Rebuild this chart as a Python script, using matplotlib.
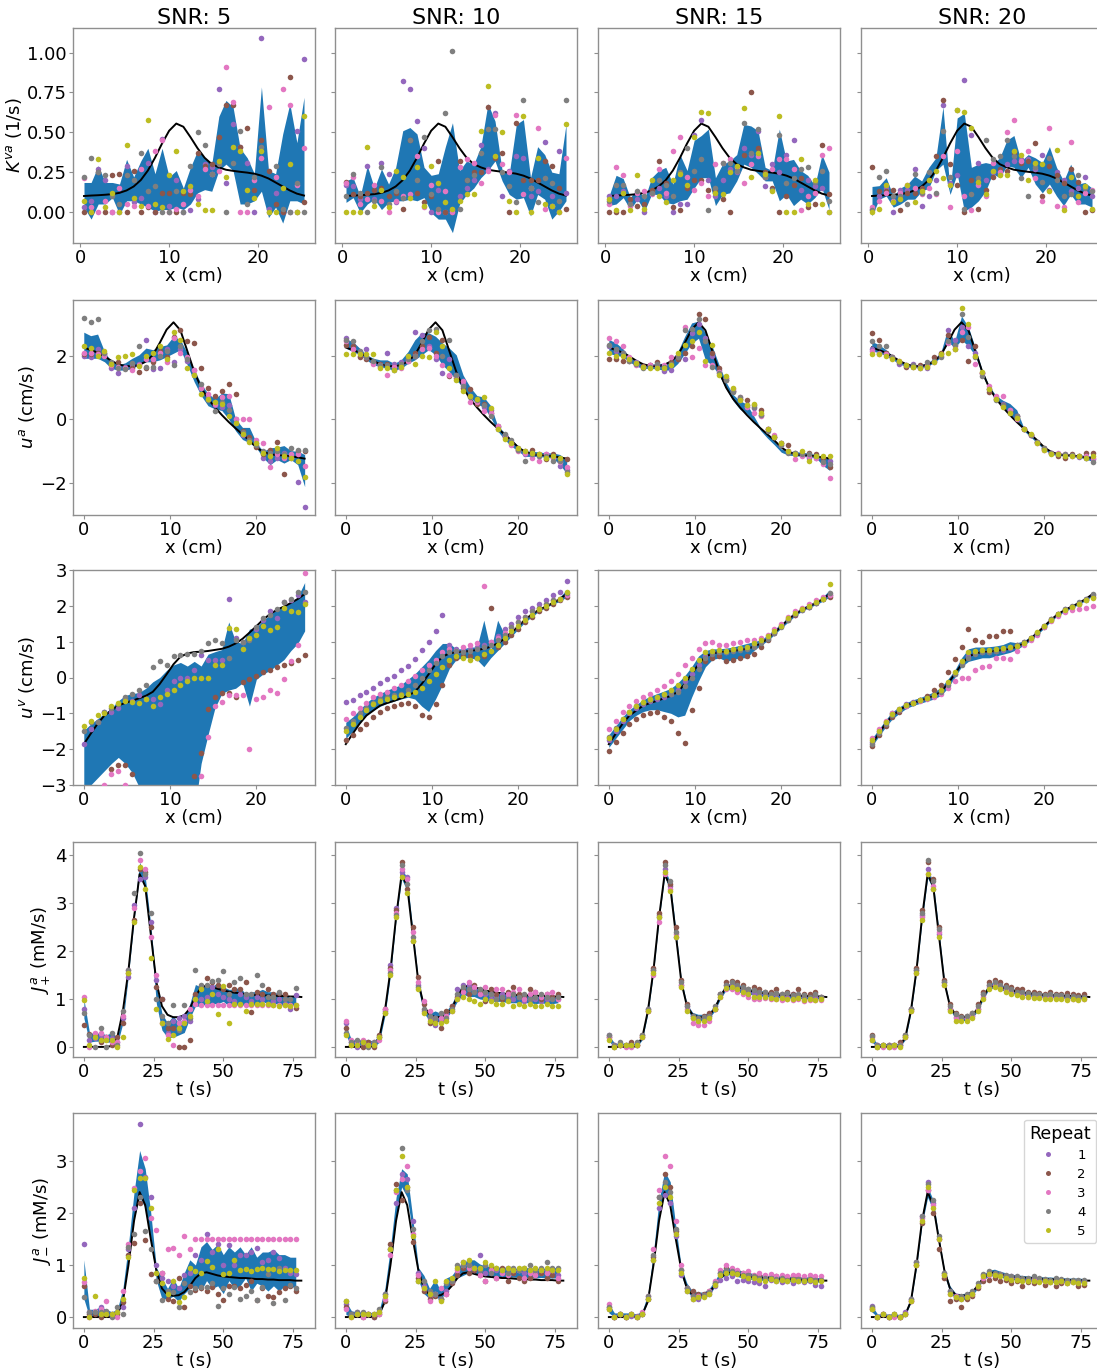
import numpy as np
import matplotlib
matplotlib.use("Agg")
import matplotlib.pyplot as plt

# ---------------- grids ----------------
x_k = np.round(np.arange(0.4, 25.3, 0.8), 2)   # K^va grid (32 points)
x_u = np.round(np.arange(0.0, 25.7, 0.8), 2)   # velocity grid (33 points)
t_est = np.arange(0, 77, 2)                    # flux estimates (39 points)
t_true = np.arange(0, 80, 2)                   # reference flux curve (40 points)

snrs = [5, 10, 15, 20]
repeat_labels = ["1", "2", "3", "4", "5"]
repeat_colors = ["tab:purple", "tab:brown", "tab:pink", "tab:gray", "tab:olive"]

# ---------------- K^va ----------------
kva_true = [0.100, 0.103, 0.105, 0.108, 0.112, 0.12, 0.135, 0.16, 0.20, 0.26, 0.34, 0.43, 0.51, 0.555, 0.535, 0.47,
            0.40, 0.34, 0.30, 0.28, 0.265, 0.258, 0.252, 0.247, 0.24, 0.228, 0.21, 0.185, 0.16, 0.135, 0.115, 0.103]

kva_hi_5 = [0.185, 0.185, 0.29, 0.185, 0.185, 0.175, 0.33, 0.22, 0.32, 0.40, 0.24, 0.40, 0.22, 0.26, 0.15, 0.28,
            0.385, 0.34, 0.30, 0.60, 0.70, 0.66, 0.40, 0.34, 0.24, 0.785, 0.26, 0.24, 0.49, 0.68, 0.435, 0.72]
kva_lo_5 = [0.03, -0.045, 0.05, 0.05, 0.09, -0.015, 0.07, 0.07, 0.05, 0.03, 0.005, 0.015, 0.015, 0.03, 0.015, 0.05,
            0.12, 0.14, 0.13, 0.26, 0.30, 0.26, 0.05, 0.05, 0.07, 0.13, -0.035, 0.03, -0.07, 0.07, 0.07, 0.05]
kva_reps_5 = [
    [0.03, 0.07, 0.27, 0.20, 0.00, 0.00, 0.29, 0.06, 0.09, 0.31, 0.00, 0.46, 0.04, 0.20, 0.00, 0.01,
     0.08, 0.30, 0.28, 0.77, 0.18, 0.55, 0.41, 0.31, 0.00, 1.09, 0.02, 0.12, 0.00, 0.00, 0.51, 0.96],
    [0.00, 0.00, 0.25, 0.00, 0.23, 0.24, 0.00, 0.26, 0.00, 0.03, 0.00, 0.12, 0.12, 0.00, 0.12, 0.11,
     0.37, 0.29, 0.30, 0.47, 0.67, 0.67, 0.41, 0.53, 0.14, 0.45, 0.26, 0.05, 0.00, 0.85, 0.00, 0.06],
    [0.21, 0.03, 0.00, 0.07, 0.00, 0.15, 0.05, 0.04, 0.27, 0.04, 0.38, 0.45, 0.00, 0.02, 0.05, 0.14,
     0.10, 0.27, 0.24, 0.26, 0.91, 0.69, 0.00, 0.00, 0.20, 0.34, 0.66, 0.22, 0.77, 0.67, 0.17, 0.40],
    [0.22, 0.34, 0.25, 0.23, 0.10, 0.05, 0.23, 0.20, 0.37, 0.13, 0.16, 0.00, 0.00, 0.13, 0.00, 0.29,
     0.50, 0.42, 0.24, 0.30, 0.00, 0.31, 0.51, 0.05, 0.22, 0.41, 0.00, 0.29, 0.02, 0.00, 0.18, 0.00],
    [0.07, 0.00, 0.33, 0.03, 0.12, 0.00, 0.42, 0.09, 0.04, 0.58, 0.05, 0.03, 0.23, 0.38, 0.13, 0.16,
     0.05, 0.01, 0.01, 0.32, 0.22, 0.41, 0.38, 0.14, 0.09, 0.38, 0.00, 0.00, 0.15, 0.30, 0.00, 0.60],
]

kva_hi_10 = [0.195, 0.215, 0.10, 0.29, 0.15, 0.27, 0.175, 0.28, 0.51, 0.53, 0.49, 0.28, 0.23, 0.24, 0.41, 0.56,
             0.26, 0.32, 0.30, 0.41, 0.68, 0.57, 0.26, 0.24, 0.55, 0.58, 0.215, 0.41, 0.36, 0.25, 0.24, 0.55]
kva_lo_10 = [0.06, 0.09, -0.005, 0.05, 0.08, 0.015, 0.06, 0.07, 0.07, 0.08, 0.07, 0.09, -0.005, -0.045, -0.045, -0.13,
             0.05, 0.11, 0.15, 0.215, 0.26, 0.32, 0.195, 0.11, 0.08, 0.09, -0.025, 0.11, 0.08, -0.045, 0.005, 0.07]
kva_reps_10 = [
    [0.17, 0.16, 0.08, 0.29, 0.08, 0.31, 0.24, 0.06, 0.82, 0.77, 0.57, 0.40, 0.00, 0.14, 0.00, 0.01,
     0.10, 0.15, 0.20, 0.42, 0.27, 0.62, 0.10, 0.26, 0.35, 0.34, 0.10, 0.13, 0.44, 0.10, 0.38, 0.12],
    [0.19, 0.11, 0.10, 0.12, 0.14, 0.15, 0.10, 0.12, 0.02, 0.45, 0.12, 0.06, 0.10, 0.32, 0.00, 0.00,
     0.32, 0.20, 0.25, 0.25, 0.66, 0.34, 0.37, 0.00, 0.56, 0.20, 0.20, 0.20, 0.32, 0.29, 0.15, 0.02],
    [0.18, 0.22, 0.05, 0.08, 0.17, 0.07, 0.00, 0.07, 0.10, 0.11, 0.35, 0.03, 0.17, 0.00, 0.13, 0.00,
     0.28, 0.33, 0.31, 0.18, 0.26, 0.61, 0.30, 0.25, 0.61, 0.11, 0.15, 0.53, 0.02, 0.04, 0.00, 0.34],
    [0.10, 0.24, 0.12, 0.00, 0.07, 0.28, 0.05, 0.13, 0.09, 0.45, 0.20, 0.47, 0.11, 0.02, 0.62, 1.01,
     0.02, 0.20, 0.23, 0.37, 0.52, 0.52, 0.25, 0.16, 0.06, 0.70, 0.15, 0.06, 0.21, 0.18, 0.07, 0.70],
    [0.00, 0.00, 0.00, 0.41, 0.04, 0.14, 0.03, 0.26, 0.22, 0.09, 0.28, 0.04, 0.29, 0.18, 0.06, 0.02,
     0.07, 0.11, 0.11, 0.51, 0.79, 0.35, 0.50, 0.07, 0.00, 0.60, 0.00, 0.34, 0.05, 0.04, 0.00, 0.55],
]

kva_hi_15 = [0.10, 0.23, 0.21, 0.09, 0.15, 0.08, 0.215, 0.26, 0.28, 0.175, 0.36, 0.26, 0.45, 0.48, 0.52, 0.215,
             0.30, 0.32, 0.36, 0.55, 0.54, 0.51, 0.28, 0.26, 0.52, 0.32, 0.33, 0.26, 0.23, 0.165, 0.36, 0.25]
kva_lo_15 = [0.04, 0.05, 0.09, 0.015, 0.08, 0.006, 0.11, 0.11, 0.06, 0.05, 0.07, 0.08, 0.15, 0.215, 0.215, 0.04,
             0.11, 0.12, 0.195, 0.30, 0.28, 0.24, 0.195, 0.195, 0.07, 0.11, 0.04, 0.08, 0.05, 0.09, 0.15, 0.015]
kva_reps_15 = [
    [0.10, 0.10, 0.13, 0.05, 0.08, 0.00, 0.13, 0.15, 0.10, 0.00, 0.05, 0.05, 0.48, 0.58, 0.20, 0.10,
     0.20, 0.27, 0.25, 0.40, 0.36, 0.51, 0.16, 0.30, 0.25, 0.36, 0.45, 0.14, 0.20, 0.16, 0.15, 0.00],
    [0.00, 0.00, 0.00, 0.08, 0.04, 0.05, 0.14, 0.32, 0.18, 0.03, 0.01, 0.15, 0.20, 0.20, 0.14, 0.14,
     0.08, 0.00, 0.28, 0.36, 0.75, 0.40, 0.25, 0.15, 0.00, 0.10, 0.17, 0.21, 0.03, 0.05, 0.42, 0.11],
    [0.05, 0.28, 0.23, 0.04, 0.12, 0.13, 0.11, 0.27, 0.12, 0.38, 0.47, 0.22, 0.14, 0.18, 0.10, 0.30,
     0.31, 0.33, 0.28, 0.18, 0.30, 0.35, 0.22, 0.27, 0.33, 0.33, 0.27, 0.01, 0.10, 0.12, 0.36, 0.40],
    [0.07, 0.17, 0.17, 0.05, 0.13, 0.10, 0.12, 0.20, 0.17, 0.10, 0.25, 0.40, 0.26, 0.33, 0.01, 0.15,
     0.31, 0.31, 0.26, 0.56, 0.37, 0.52, 0.22, 0.14, 0.48, 0.18, 0.21, 0.27, 0.28, 0.19, 0.26, 0.07],
    [0.08, 0.01, 0.12, 0.01, 0.23, 0.02, 0.20, 0.10, 0.06, 0.20, 0.24, 0.17, 0.47, 0.63, 0.62, 0.12,
     0.11, 0.25, 0.29, 0.65, 0.22, 0.37, 0.24, 0.13, 0.60, 0.00, 0.00, 0.33, 0.05, 0.20, 0.05, 0.00],
]

kva_hi_20 = [0.16, 0.165, 0.215, 0.10, 0.15, 0.175, 0.225, 0.195, 0.28, 0.34, 0.66, 0.13, 0.59, 0.62, 0.28, 0.30,
             0.31, 0.30, 0.34, 0.45, 0.48, 0.32, 0.36, 0.34, 0.31, 0.41, 0.28, 0.195, 0.30, 0.175, 0.185, 0.15]
kva_lo_20 = [-0.025, 0.08, 0.10, 0.03, 0.05, 0.08, 0.08, 0.13, 0.15, 0.26, 0.30, 0.11, 0.24, 0.006, 0.03, 0.07,
             0.13, 0.24, 0.215, 0.29, 0.28, 0.215, 0.28, 0.175, 0.12, 0.175, 0.10, 0.04, 0.11, 0.05, 0.05, 0.03]
kva_reps_20 = [
    [0.02, 0.10, 0.15, 0.00, 0.14, 0.14, 0.27, 0.04, 0.10, 0.20, 0.67, 0.18, 0.23, 0.83, 0.48, 0.31,
     0.20, 0.25, 0.24, 0.30, 0.32, 0.33, 0.33, 0.27, 0.36, 0.14, 0.25, 0.20, 0.13, 0.15, 0.22, 0.10],
    [0.28, 0.13, 0.13, 0.14, 0.01, 0.12, 0.12, 0.15, 0.20, 0.35, 0.70, 0.30, 0.17, 0.00, 0.20, 0.02,
     0.14, 0.22, 0.27, 0.26, 0.37, 0.31, 0.32, 0.43, 0.10, 0.29, 0.23, 0.18, 0.27, 0.19, 0.00, 0.01],
    [0.03, 0.07, 0.12, 0.07, 0.12, 0.17, 0.15, 0.11, 0.15, 0.11, 0.35, 0.03, 0.38, 0.10, 0.01, 0.17,
     0.10, 0.31, 0.25, 0.50, 0.58, 0.32, 0.38, 0.21, 0.07, 0.53, 0.04, 0.03, 0.44, 0.06, 0.12, 0.14],
    [0.01, 0.22, 0.26, 0.10, 0.10, 0.05, 0.24, 0.12, 0.25, 0.12, 0.51, 0.22, 0.64, 0.02, 0.11, 0.21,
     0.45, 0.33, 0.35, 0.45, 0.35, 0.21, 0.10, 0.28, 0.19, 0.34, 0.20, 0.10, 0.11, 0.23, 0.15, 0.13],
    [0.00, 0.02, 0.17, 0.06, 0.08, 0.17, 0.06, 0.13, 0.20, 0.26, 0.21, 0.17, 0.64, 0.63, 0.53, 0.19,
     0.11, 0.26, 0.23, 0.23, 0.38, 0.36, 0.20, 0.31, 0.30, 0.13, 0.39, 0.01, 0.22, 0.10, 0.16, 0.02],
]

# ---------------- u^a ----------------
ua_true = [2.26, 2.18, 2.10, 1.98, 1.84, 1.73, 1.68, 1.67, 1.71, 1.82, 2.02, 2.40, 2.82, 3.05, 2.80, 2.15,
           1.50, 1.00, 0.65, 0.38, 0.14, -0.08, -0.28, -0.47, -0.66, -0.88, -1.02, -1.09, -1.12, -1.13, -1.16, -1.19, -1.23]

ua_hi_5 = [2.74, 2.63, 2.68, 2.13, 1.81, 1.71, 1.78, 1.92, 2.03, 2.24, 2.19, 2.29, 2.34, 2.61, 2.50, 2.08,
           1.55, 1.12, 0.81, 0.65, 0.83, 0.81, 0.01, -0.25, -0.25, -0.73, -1.00, -0.89, -0.87, -0.82, -0.98, -1.00, -1.10]
ua_lo_5 = [1.92, 1.92, 1.92, 1.81, 1.60, 1.55, 1.55, 1.60, 1.71, 1.81, 1.81, 1.87, 1.97, 2.08, 2.19, 1.71,
           1.18, 0.75, 0.43, 0.33, 0.28, 0.01, -0.36, -0.63, -0.73, -0.89, -1.21, -1.42, -1.26, -1.37, -1.26, -1.42, -2.11]
ua_reps_5 = [
    [2.0, 1.95, 2.2, 2.1, 1.62, 1.45, 1.65, 1.7, 1.75, 2.5, 1.58, 1.6, 2.2, 1.8, 2.2, 1.85,
     1.55, 1.0, 0.75, 0.45, 0.4, 0.45, 0.0, -0.5, -0.6, -0.75, -1.2, -1.3, -1.2, -1.05, -1.2, -1.95, -2.75],
    [2.05, 2.05, 2.1, 2.05, 1.7, 1.8, 1.62, 1.6, 1.5, 1.6, 1.8, 2.15, 1.95, 2.6, 2.8, 2.45,
     2.4, 1.6, 1.0, 0.75, 0.9, 1.1, 0.8, -0.35, -0.55, -0.85, -1.1, -0.95, -0.7, -1.7, -1.15, -1.0, -1.0],
    [2.1, 2.1, 2.05, 2.0, 1.7, 1.65, 1.6, 1.55, 1.72, 1.9, 1.9, 2.1, 1.8, 2.55, 2.1, 1.95,
     1.55, 1.0, 0.8, 0.5, 0.7, 0.75, 0.0, 0.0, 0.0, -0.65, -0.75, -1.5, -1.1, -1.2, -1.1, -1.1, -1.45],
    [3.17, 3.05, 3.16, 2.1, 1.8, 1.6, 1.58, 1.78, 2.3, 1.65, 1.65, 2.0, 2.15, 1.7, 2.3, 1.9,
     1.4, 1.1, 0.6, 0.25, 0.55, 0.3, -0.1, -0.4, -0.65, -0.8, -1.0, -1.05, -1.0, -1.1, -0.9, -0.95, -0.95],
    [2.3, 2.25, 2.0, 2.15, 1.75, 1.97, 2.0, 2.05, 1.68, 2.0, 2.1, 2.3, 1.9, 2.75, 2.5, 1.6,
     1.4, 0.8, 0.65, 0.55, 0.5, 0.1, -0.1, -0.45, -0.7, -0.75, -1.05, -1.15, -0.9, -1.15, -1.2, -1.3, -1.8],
]

ua_hi_10 = [2.52, 2.45, 2.24, 2.03, 1.92, 1.87, 1.87, 1.76, 1.87, 2.13, 2.50, 2.72, 2.72, 2.61, 2.40, 2.24,
            2.03, 1.39, 1.02, 0.75, 0.70, 0.43, -0.20, -0.41, -0.63, -0.84, -0.98, -1.00, -1.02, -1.05, -1.05, -1.10, -1.26]
ua_lo_10 = [2.24, 2.13, 2.03, 1.87, 1.71, 1.66, 1.60, 1.55, 1.60, 1.76, 1.87, 2.03, 2.19, 2.03, 1.71, 1.50,
            1.23, 1.02, 0.70, 0.49, 0.38, 0.06, -0.36, -0.63, -0.84, -1.00, -1.16, -1.16, -1.16, -1.19, -1.21, -1.42, -1.69]
ua_reps_10 = [
    [2.55, 2.3, 2.0, 2.2, 1.8, 1.65, 2.1, 1.75, 1.8, 1.9, 2.75, 2.65, 2.3, 1.9, 1.45, 1.9,
     1.4, 1.1, 0.75, 0.6, 0.4, 0.3, -0.25, -0.5, -0.7, -0.9, -1.1, -1.1, -1.15, -1.1, -1.2, -1.45, -1.6],
    [2.35, 2.3, 1.95, 1.9, 1.8, 1.75, 1.75, 1.65, 1.7, 1.85, 2.1, 2.3, 2.6, 2.1, 2.5, 1.35,
     1.3, 1.0, 0.95, 0.5, 0.5, 0.2, -0.2, -0.55, -0.75, -0.95, -1.0, -0.95, -1.1, -1.25, -1.1, -1.25, -1.25],
    [2.45, 2.2, 2.1, 1.95, 1.75, 1.7, 1.4, 1.65, 1.6, 1.85, 2.0, 2.2, 2.25, 2.0, 1.7, 1.4,
     1.35, 1.2, 0.55, 0.55, 0.25, 0.2, -0.2, -0.5, -0.8, -1.0, -1.05, -1.2, -1.3, -1.1, -1.2, -1.35, -1.5],
    [2.5, 2.45, 2.15, 1.95, 1.85, 1.7, 1.7, 1.55, 1.75, 1.9, 2.0, 2.45, 2.8, 2.85, 2.0, 2.5,
     1.4, 1.05, 0.7, 0.6, 0.45, 0.1, -0.3, -0.45, -0.65, -0.95, -1.3, -1.1, -1.15, -1.15, -1.3, -1.3, -1.65],
    [2.05, 2.05, 2.05, 2.05, 2.05, 1.6, 1.6, 1.55, 1.65, 2.0, 1.75, 2.0, 1.95, 2.75, 2.3, 1.6,
     1.25, 0.9, 0.75, 0.65, 0.7, 0.35, -0.3, -0.6, -0.75, -0.9, -1.0, -1.05, -1.1, -1.2, -1.15, -1.2, -1.7],
]

ua_hi_15 = [2.51, 2.41, 2.23, 1.97, 1.81, 1.73, 1.73, 1.76, 1.76, 1.86, 2.13, 2.61, 3.03, 3.09, 2.71, 2.29,
            1.70, 1.17, 0.78, 0.59, 0.48, 0.11, -0.27, -0.48, -0.69, -0.93, -0.99, -1.01, -1.03, -1.06, -1.10, -1.17, -1.17]
ua_lo_15 = [2.07, 2.02, 1.97, 1.81, 1.67, 1.60, 1.60, 1.59, 1.54, 1.56, 1.76, 2.07, 2.39, 2.55, 1.86, 1.70,
            1.38, 0.96, 0.59, 0.32, 0.18, -0.05, -0.35, -0.59, -0.80, -1.03, -1.12, -1.14, -1.16, -1.18, -1.20, -1.44, -1.60]
ua_reps_15 = [
    [2.3, 2.15, 2.1, 1.9, 1.8, 1.65, 1.7, 1.65, 1.52, 1.55, 1.9, 1.9, 2.7, 3.0, 2.55, 2.0,
     1.55, 1.3, 0.9, 0.65, 0.4, 0.35, 0.15, -0.3, -0.55, -0.75, -1.0, -1.1, -1.1, -1.2, -1.2, -1.2, -1.3],
    [1.9, 1.9, 1.85, 1.85, 1.75, 1.68, 1.7, 1.8, 1.65, 1.8, 1.9, 2.1, 2.3, 3.3, 3.15, 2.1,
     1.6, 1.25, 0.9, 0.65, 0.6, 0.45, 0.3, -0.3, -0.55, -0.75, -0.8, -1.05, -1.1, -1.05, -1.1, -1.2, -1.5],
    [2.55, 2.45, 2.3, 1.95, 1.7, 1.65, 1.7, 1.7, 1.7, 1.95, 2.0, 2.9, 1.95, 2.25, 1.7, 1.7,
     1.5, 1.3, 0.95, 0.7, 0.4, 0.2, 0.1, -0.3, -0.5, -0.8, -1.0, -1.25, -1.15, -1.15, -1.2, -1.4, -1.85],
    [2.35, 2.2, 2.1, 1.85, 1.75, 1.6, 1.65, 1.75, 1.65, 1.75, 1.95, 2.8, 2.85, 3.15, 2.45, 1.65,
     1.45, 1.25, 0.85, 0.7, 0.45, 0.4, 0.15, -0.35, -0.55, -0.8, -1.05, -1.05, -1.1, -1.1, -1.15, -1.35, -1.4],
    [2.1, 2.0, 2.0, 1.9, 1.78, 1.65, 1.6, 1.6, 1.6, 1.7, 2.1, 2.35, 2.45, 2.75, 1.85, 2.35,
     1.4, 1.35, 1.0, 0.6, 0.45, 0.5, 0.2, -0.3, -0.55, -0.75, -1.0, -1.1, -1.0, -1.3, -1.15, -1.15, -1.15],
]

ua_hi_20 = [2.45, 2.35, 2.20, 2.00, 1.85, 1.76, 1.72, 1.72, 1.78, 1.90, 2.10, 2.85, 2.45, 3.25, 2.90, 2.25,
            1.55, 1.05, 0.75, 0.60, 0.50, 0.30, -0.25, -0.45, -0.65, -0.88, -1.02, -1.06, -1.08, -1.10, -1.12, -1.12, -1.15]
ua_lo_20 = [2.15, 2.10, 2.00, 1.88, 1.74, 1.66, 1.63, 1.62, 1.66, 1.78, 1.95, 2.45, 2.25, 2.50, 2.30, 2.00,
            1.40, 0.95, 0.60, 0.40, 0.15, 0.00, -0.35, -0.55, -0.75, -0.95, -1.10, -1.13, -1.15, -1.17, -1.19, -1.24, -1.32]
ua_reps_20 = [
    [2.2, 2.1, 2.1, 1.95, 1.75, 1.68, 1.75, 1.62, 1.6, 1.85, 2.05, 2.8, 2.5, 2.9, 2.3, 2.1,
     1.45, 0.95, 0.7, 0.5, 0.3, 0.1, -0.3, -0.5, -0.72, -0.92, -1.05, -1.1, -1.15, -1.13, -1.17, -1.2, -1.25],
    [2.7, 2.5, 2.1, 1.95, 1.8, 1.65, 1.65, 1.7, 1.7, 1.95, 2.1, 2.65, 2.2, 2.5, 1.85, 2.3,
     1.45, 0.85, 0.65, 0.45, 0.25, 0.1, -0.3, -0.5, -0.7, -0.9, -1.05, -1.15, -1.2, -1.1, -1.15, -1.05, -1.05],
    [2.15, 2.05, 2.05, 1.95, 1.85, 1.7, 1.68, 1.65, 1.68, 1.8, 2.0, 2.4, 2.3, 2.75, 2.9, 1.75,
     1.45, 1.05, 0.75, 0.75, 0.3, 0.0, -0.3, -0.5, -0.75, -0.95, -1.05, -1.05, -1.1, -1.15, -1.15, -1.15, -1.2],
    [2.45, 2.3, 2.3, 1.95, 1.8, 1.7, 1.7, 1.65, 1.8, 1.85, 1.95, 2.45, 2.35, 3.3, 2.6, 1.95,
     1.35, 0.95, 0.6, 0.45, 0.2, 0.1, -0.3, -0.5, -0.7, -0.9, -1.05, -1.1, -1.1, -1.12, -1.15, -1.2, -1.35],
    [2.05, 2.05, 2.0, 1.9, 1.85, 1.72, 1.65, 1.6, 1.65, 1.8, 2.05, 2.1, 2.2, 3.5, 3.0, 2.0,
     1.5, 0.95, 0.65, 0.4, 0.2, 0.05, -0.3, -0.45, -0.75, -0.95, -1.1, -1.1, -1.15, -1.15, -1.15, -1.2, -1.15],
]

# ---------------- u^v ----------------
uv_true = [-1.86, -1.57, -1.29, -1.06, -0.92, -0.78, -0.71, -0.65, -0.58, -0.51, -0.40, -0.18, 0.09, 0.37, 0.58, 0.67,
           0.71, 0.72, 0.74, 0.77, 0.80, 0.86, 0.95, 1.08, 1.25, 1.43, 1.62, 1.77, 1.89, 1.98, 2.08, 2.19, 2.33]

uv_hi_5 = [-1.48, -1.30, -1.15, -1.00, -0.85, -0.65, -0.50, -0.45, -0.42, -0.30, -0.12, 0.00, 0.20, 0.35, 0.42, 0.32,
           0.45, 0.32, 0.65, 0.72, 0.78, 1.55, 1.00, 0.95, 1.35, 1.40, 1.60, 1.75, 1.90, 2.00, 2.10, 2.25, 2.65]
uv_lo_5 = [-4.5, -3.0, -2.8, -2.6, -2.4, -2.23, -2.4, -2.65, -3.05, -3.8, -4.0, -4.0, -4.0, -4.0, -4.0, -4.0,
           -3.8, -2.4, -1.6, -0.85, -0.45, -0.35, -0.30, -0.15, -0.80, -0.05, 0.10, 0.20, 0.35, 0.50, 0.75, 0.95, 1.30]
uv_reps_5 = [
    [-1.85, -1.45, -1.25, -0.95, -0.95, -0.85, -0.6, -0.65, -0.5, -0.6, -0.6, -0.75, -0.35, -0.1, 0.0, 0.0,
     0.2, 0.62, 0.5, 0.5, 0.5, 2.18, 1.1, 1.0, 1.1, 1.35, 1.6, 1.85, 1.65, 2.1, 2.15, 2.3, 2.1],
    [-5.0, -3.8, -3.5, -3.2, -2.55, -2.45, -2.45, -2.7, -3.3, -3.8, -4.0, -4.2, -4.5, -4.2, -3.9, -3.3,
     -2.75, -2.1, -0.88, -0.55, -0.43, -0.43, -0.55, -0.12, -0.05, 0.05, 0.15, 0.2, 0.3, 0.35, 0.4, 0.5, 0.62],
    [-4.5, -4.0, -3.3, -3.0, -2.7, -2.62, -3.0, -3.2, -3.5, -4.0, -4.2, -4.3, -4.3, -4.0, -3.8, -3.5,
     -3.2, -2.75, -1.65, -0.8, -0.68, -0.48, -0.5, -0.5, -2.0, -0.6, -0.55, -0.35, -0.42, -0.05, 0.45, 0.9, 2.93],
    [-1.48, -1.25, -1.25, -0.95, -0.85, -0.75, -0.55, -0.45, -0.35, -0.2, 0.28, 0.45, 0.35, 0.6, 0.62, 0.65,
     0.65, 0.75, 0.95, 1.05, 0.95, 0.55, 1.05, 1.0, 1.05, 1.4, 1.65, 1.75, 1.9, 2.1, 2.2, 2.4, 2.38],
    [-1.36, -1.2, -1.05, -1.0, -0.8, -0.7, -0.65, -0.68, -0.72, -0.6, -0.8, -0.55, -0.45, -0.36, -0.2, -0.1,
     0.0, 0.0, 0.0, 0.35, 0.35, 1.38, 1.36, 0.8, 1.1, 1.2, 1.45, 1.32, 1.42, 1.95, 1.85, 1.82, 2.05],
]

uv_hi_10 = [-1.25, -1.10, -0.90, -0.70, -0.55, -0.45, -0.35, -0.28, -0.20, -0.05, 0.10, 0.30, 0.50, 0.75, 0.95, 0.95,
            0.80, 0.80, 0.85, 0.85, 1.60, 0.75, 1.60, 1.20, 1.30, 1.45, 1.65, 1.80, 1.92, 2.02, 2.12, 2.25, 2.45]
uv_lo_10 = [-1.70, -1.50, -1.25, -1.05, -0.90, -0.80, -0.72, -0.66, -0.60, -0.55, -0.60, -0.80, -0.95, -0.60, -0.20, 0.25,
            0.50, 0.55, 0.55, 0.50, 0.30, 0.55, 0.75, 0.95, 1.15, 1.35, 1.55, 1.70, 1.85, 1.95, 2.05, 2.12, 2.25]
uv_reps_10 = [
    [-0.69, -0.62, -0.5, -0.4, -0.28, -0.15, -0.05, 0.05, 0.2, 0.31, 0.53, 0.78, 0.99, 1.31, 1.75, 0.9,
     0.8, 0.75, 0.8, 0.85, 0.9, 1.0, 1.15, 1.35, 1.5, 1.7, 1.85, 1.95, 2.05, 2.15, 2.3, 2.4, 2.7],
    [-1.75, -1.6, -1.45, -1.3, -1.1, -0.95, -0.85, -0.8, -0.75, -0.7, -0.8, -1.05, -1.1, -0.75, -0.2, 0.35,
     0.55, 0.6, 0.6, 0.55, 0.6, 1.95, 0.85, 1.0, 1.2, 1.35, 1.55, 1.7, 1.85, 1.95, 2.05, 2.15, 2.25],
    [-1.15, -1.0, -0.85, -0.7, -0.55, -0.45, -0.4, -0.3, -0.2, -0.1, 0.05, 0.2, 0.35, 0.5, 0.7, 0.8,
     0.75, 0.85, 0.9, 0.95, 2.56, 1.0, 1.1, 1.25, 1.4, 1.55, 1.7, 1.85, 1.95, 2.05, 2.15, 2.2, 2.3],
    [-1.4, -1.2, -1.0, -0.85, -0.7, -0.6, -0.55, -0.5, -0.45, -0.35, -0.2, 0.0, 0.2, 0.4, 0.6, 0.7,
     0.75, 0.7, 0.75, 0.8, 0.85, 0.9, 1.05, 1.2, 1.4, 1.55, 1.7, 1.85, 1.95, 2.05, 2.15, 2.2, 2.35],
    [-1.5, -1.3, -1.1, -0.9, -0.75, -0.65, -0.6, -0.55, -0.5, -0.45, -0.4, -0.3, -0.1, 0.1, 0.3, 0.5,
     0.6, 0.55, 0.5, 0.55, 0.65, 0.75, 0.9, 1.1, 1.3, 1.45, 1.6, 1.75, 1.9, 2.0, 2.1, 2.2, 2.4],
]

uv_hi_15 = [-1.60, -1.35, -1.10, -0.90, -0.75, -0.62, -0.52, -0.45, -0.38, -0.30, -0.15, 0.05, 0.30, 0.60, 0.75, 0.80,
            0.80, 0.82, 0.85, 0.90, 0.95, 1.00, 1.05, 1.18, 1.35, 1.50, 1.68, 1.82, 1.95, 2.05, 2.12, 2.25, 2.45]
uv_lo_15 = [-1.95, -1.70, -1.45, -1.20, -1.05, -0.95, -0.90, -0.90, -0.95, -1.00, -1.10, -1.05, -0.55, -0.10, 0.30, 0.50,
            0.55, 0.45, 0.50, 0.55, 0.55, 0.75, 0.90, 1.02, 1.20, 1.38, 1.55, 1.72, 1.85, 1.95, 2.03, 2.13, 2.25]
uv_reps_15 = [
    [-1.75, -1.5, -1.2, -1.0, -0.85, -0.75, -0.65, -0.6, -0.55, -0.45, -0.35, -0.1, 0.1, 0.35, 0.6, 0.7,
     0.72, 0.7, 0.78, 0.8, 0.82, 0.9, 1.0, 1.1, 1.25, 1.45, 1.62, 1.75, 1.88, 1.98, 2.07, 2.18, 2.3],
    [-2.05, -1.8, -1.55, -1.3, -1.15, -1.05, -1.0, -0.95, -1.1, -1.2, -1.54, -1.84, -0.9, -0.3, 0.45, 0.55,
     0.6, 0.45, 0.5, 0.55, 0.6, 0.65, 0.85, 1.05, 1.25, 1.45, 1.6, 1.75, 1.9, 1.98, 2.08, 2.2, 2.25],
    [-1.45, -1.2, -0.95, -0.8, -0.65, -0.55, -0.45, -0.35, -0.25, -0.1, 0.1, 0.35, 0.55, 0.8, 0.95, 1.0,
     0.9, 0.9, 0.95, 1.0, 1.05, 1.05, 1.1, 1.2, 1.35, 1.5, 1.7, 1.85, 1.95, 2.05, 2.15, 2.25, 2.3],
    [-1.65, -1.4, -1.15, -0.95, -0.8, -0.7, -0.62, -0.55, -0.5, -0.45, -0.4, -0.25, 0.0, 0.25, 0.55, 0.65,
     0.7, 0.72, 0.75, 0.78, 0.8, 0.85, 0.95, 1.08, 1.25, 1.42, 1.6, 1.76, 1.88, 1.97, 2.08, 2.2, 2.35],
    [-1.7, -1.45, -1.15, -0.95, -0.8, -0.68, -0.6, -0.55, -0.45, -0.35, -0.2, 0.0, 0.25, 0.5, 0.7, 0.75,
     0.78, 0.75, 0.8, 0.82, 0.85, 0.95, 1.05, 1.15, 1.3, 1.45, 1.65, 1.8, 1.92, 2.0, 2.1, 2.2, 2.6],
]

uv_hi_20 = [-1.70, -1.45, -1.18, -0.95, -0.82, -0.70, -0.62, -0.56, -0.48, -0.40, -0.28, -0.05, 0.20, 0.55, 0.80, 0.85,
            0.85, 0.86, 0.88, 0.92, 1.00, 0.97, 1.02, 1.15, 1.30, 1.48, 1.66, 1.80, 1.92, 2.02, 2.12, 2.23, 2.37]
uv_lo_20 = [-1.92, -1.65, -1.38, -1.15, -1.00, -0.86, -0.78, -0.72, -0.66, -0.60, -0.50, -0.30, 0.00, 0.30, 0.45, 0.50,
            0.55, 0.55, 0.60, 0.65, 0.70, 0.78, 0.90, 1.03, 1.20, 1.38, 1.58, 1.73, 1.85, 1.94, 2.04, 2.15, 2.28]
uv_reps_20 = [
    [-1.8, -1.5, -1.25, -1.0, -0.88, -0.75, -0.68, -0.62, -0.55, -0.5, -0.38, -0.15, 0.1, 0.4, 0.6, 0.68,
     0.72, 0.72, 0.75, 0.78, 0.82, 0.88, 0.95, 1.1, 1.25, 1.45, 1.6, 1.78, 1.9, 1.98, 2.08, 2.2, 2.3],
    [-1.9, -1.6, -1.35, -1.1, -0.95, -0.8, -0.72, -0.62, -0.52, -0.35, -0.2, 0.15, 0.53, 0.84, 1.35, 1.06,
     1.0, 1.15, 1.17, 1.31, 1.29, 0.9, 0.98, 1.1, 1.25, 1.42, 1.62, 1.76, 1.88, 1.98, 2.05, 2.15, 2.25],
    [-1.7, -1.45, -1.2, -1.0, -0.9, -0.8, -0.72, -0.66, -0.6, -0.55, -0.45, -0.3, -0.1, 0.0, 0.0, 0.22,
     0.3, 0.31, 0.55, 0.55, 0.53, 0.75, 0.92, 1.05, 1.2, 1.4, 1.58, 1.72, 1.82, 1.88, 1.92, 1.95, 2.0],
    [-1.85, -1.55, -1.3, -1.05, -0.92, -0.78, -0.7, -0.64, -0.58, -0.5, -0.4, -0.2, 0.1, 0.35, 0.55, 0.65,
     0.7, 0.72, 0.75, 0.8, 0.85, 0.9, 0.98, 1.1, 1.25, 1.45, 1.62, 1.78, 1.9, 2.0, 2.1, 2.2, 2.32],
    [-1.75, -1.5, -1.25, -1.02, -0.88, -0.76, -0.7, -0.63, -0.56, -0.48, -0.36, -0.12, 0.15, 0.45, 0.7, 0.75,
     0.78, 0.78, 0.8, 0.82, 0.85, 0.88, 0.97, 1.1, 1.26, 1.44, 1.6, 1.76, 1.88, 1.96, 2.06, 2.16, 2.22],
]

# ---------------- J^a_+ ----------------
jp_true = [0.0, 0.0, 0.0, 0.0, 0.0, 0.02, 0.2, 0.75, 1.6, 2.7, 3.6, 3.35, 2.35, 1.35, 0.85, 0.67, 0.62, 0.62, 0.66, 0.8,
           1.05, 1.24, 1.28, 1.25, 1.21, 1.18, 1.15, 1.13, 1.12, 1.1, 1.09, 1.08, 1.08, 1.07, 1.07, 1.06, 1.06, 1.05, 1.05, 1.04]

jp_hi_5 = [1.0, 0.3, 0.28, 0.3, 0.25, 0.3, 0.2, 0.7, 1.6, 2.85, 3.85, 3.55, 2.55, 1.3, 0.7, 0.5, 0.65, 0.5, 0.6, 0.9,
           1.3, 1.25, 1.3, 1.25, 1.35, 1.25, 1.2, 1.2, 1.25, 1.1, 1.15, 1.15, 1.2, 1.15, 1.15, 1.1, 1.1, 1.05, 1.05]
jp_lo_5 = [0.6, 0.1, 0.12, 0.12, 0.1, 0.1, 0.05, 0.5, 1.5, 2.65, 3.6, 3.3, 2.3, 0.9, 0.35, 0.2, 0.2, 0.25, 0.3, 0.6,
           0.85, 0.85, 0.9, 0.9, 0.9, 0.95, 0.85, 0.85, 0.9, 0.85, 0.85, 0.9, 0.95, 0.9, 0.9, 0.9, 0.85, 0.85, 0.9]
jp_reps_5 = [
    [0.8, 0.15, 0.18, 0.25, 0.2, 0.18, 0.1, 0.6, 1.45, 2.95, 3.5, 3.55, 2.6, 1.4, 1.0, 0.3, 0.55, 0.6, 0.65, 0.55,
     1.0, 1.0, 1.05, 1.25, 1.1, 1.05, 1.0, 0.95, 1.1, 1.05, 0.95, 1.05, 1.0, 0.9, 0.95, 1.0, 0.9, 0.78, 1.08],
    [0.45, 0.27, 0.25, 0.1, 0.2, 0.05, 0.2, 0.5, 1.55, 2.65, 3.7, 3.65, 2.5, 1.25, 1.0, 0.4, 0.4, 0.0, 0.0, 0.15,
     1.1, 1.25, 1.43, 1.35, 1.3, 1.2, 1.3, 1.2, 1.2, 1.35, 0.72, 1.15, 1.1, 1.2, 1.1, 1.12, 1.1, 0.88, 0.82],
    [1.05, 0.0, 0.28, 0.28, 0.2, 0.1, 0.1, 0.65, 1.6, 2.9, 3.9, 3.7, 2.3, 1.5, 0.5, 0.25, 0.03, 0.5, 0.55, 0.8,
     0.9, 0.88, 0.88, 0.88, 0.88, 0.88, 0.88, 0.88, 0.88, 0.88, 0.88, 0.88, 0.88, 0.88, 0.88, 0.88, 0.88, 0.88, 0.88],
    [0.7, 0.25, 0.0, 0.4, 0.0, 0.3, 0.05, 0.75, 1.6, 3.2, 4.05, 3.6, 2.8, 1.0, 0.65, 0.5, 0.88, 0.35, 0.88, 0.6,
     1.6, 1.3, 1.3, 1.38, 1.4, 1.58, 1.1, 1.35, 1.43, 1.1, 1.1, 1.5, 1.3, 1.05, 1.05, 1.15, 1.0, 1.0, 1.23],
    [0.97, 0.05, 0.2, 0.15, 0.15, 0.15, 0.0, 0.2, 1.55, 2.6, 3.75, 3.3, 1.85, 0.8, 0.5, 0.17, 0.25, 0.4, 0.5, 0.65,
     1.0, 1.2, 0.95, 1.1, 0.68, 1.27, 0.5, 0.9, 0.9, 0.75, 0.9, 0.9, 0.9, 0.9, 0.88, 0.85, 0.88, 0.85, 0.88],
]

jp_hi_10 = [0.45, 0.15, 0.15, 0.15, 0.15, 0.12, 0.25, 0.8, 1.7, 2.85, 3.75, 3.5, 2.45, 1.4, 0.85, 0.7, 0.75, 0.7, 0.75, 0.9,
            1.15, 1.3, 1.3, 1.25, 1.2, 1.2, 1.15, 1.15, 1.12, 1.12, 1.1, 1.1, 1.12, 1.08, 1.08, 1.1, 1.05, 1.05, 1.05]
jp_lo_10 = [0.25, 0.0, 0.0, 0.0, 0.0, 0.0, 0.1, 0.65, 1.5, 2.65, 3.5, 3.25, 2.25, 1.2, 0.7, 0.55, 0.55, 0.5, 0.6, 0.75,
            0.95, 1.1, 1.05, 1.05, 1.0, 0.98, 0.95, 0.95, 0.95, 0.92, 0.92, 0.92, 0.92, 0.92, 0.9, 0.92, 0.9, 0.9, 0.92]
jp_reps_10 = [
    [0.5, 0.1, 0.0, 0.05, 0.1, 0.05, 0.2, 0.75, 1.7, 2.9, 3.65, 3.55, 2.2, 1.3, 0.75, 0.6, 0.45, 0.55, 0.7, 0.85,
     1.2, 1.3, 1.3, 1.2, 1.15, 1.1, 1.0, 1.05, 1.1, 1.05, 1.0, 1.05, 0.95, 1.0, 1.0, 0.95, 1.0, 1.05, 1.0],
    [0.4, 0.05, 0.1, 0.0, 0.1, 0.0, 0.25, 0.8, 1.65, 2.85, 3.85, 3.3, 2.5, 1.45, 0.9, 0.5, 0.55, 0.4, 0.75, 0.85,
     1.05, 1.2, 1.1, 1.3, 1.15, 0.95, 1.2, 1.1, 1.0, 1.15, 1.25, 1.1, 1.05, 1.2, 1.15, 1.0, 1.1, 1.05, 1.1],
    [0.55, 0.15, 0.1, 0.15, 0.05, 0.1, 0.15, 0.8, 1.6, 2.8, 3.7, 3.5, 2.4, 1.35, 0.95, 0.75, 0.6, 0.6, 0.65, 0.75,
     1.0, 1.15, 1.35, 1.25, 1.1, 1.25, 1.1, 1.2, 1.2, 1.1, 1.15, 1.2, 1.0, 1.1, 1.15, 1.05, 1.1, 1.15, 1.0],
    [0.3, 0.1, 0.15, 0.1, 0.0, 0.1, 0.2, 0.7, 1.55, 2.75, 3.8, 3.4, 2.3, 1.25, 0.8, 0.65, 0.6, 0.7, 0.6, 0.8,
     1.1, 1.25, 1.2, 1.15, 1.2, 1.15, 1.1, 1.0, 1.05, 1.0, 1.1, 1.05, 1.1, 1.0, 1.05, 1.1, 1.05, 1.0, 1.05],
    [0.25, 0.05, 0.05, 0.1, 0.05, 0.05, 0.2, 0.7, 1.5, 2.7, 3.55, 3.2, 2.2, 1.2, 0.7, 0.55, 0.5, 0.5, 0.55, 0.75,
     1.0, 1.05, 1.0, 0.95, 0.9, 1.0, 0.95, 0.9, 0.9, 0.95, 0.85, 0.9, 0.85, 0.9, 0.85, 0.85, 0.9, 0.85, 0.85],
]

jp_hi_15 = [0.25, 0.08, 0.08, 0.08, 0.08, 0.08, 0.25, 0.8, 1.65, 2.8, 3.7, 3.45, 2.45, 1.4, 0.9, 0.72, 0.68, 0.68, 0.72, 0.88,
            1.12, 1.3, 1.33, 1.3, 1.27, 1.22, 1.2, 1.18, 1.16, 1.14, 1.13, 1.12, 1.11, 1.1, 1.1, 1.09, 1.09, 1.08, 1.08]
jp_lo_15 = [0.12, 0.0, 0.0, 0.0, 0.0, 0.0, 0.15, 0.7, 1.55, 2.65, 3.55, 3.25, 2.25, 1.28, 0.8, 0.58, 0.55, 0.55, 0.6, 0.75,
            1.0, 1.18, 1.2, 1.15, 1.12, 1.1, 1.08, 1.06, 1.05, 1.04, 1.03, 1.02, 1.02, 1.01, 1.01, 1.0, 1.0, 1.0, 1.0]
jp_reps_15 = [
    [0.25, 0.05, 0.05, 0.02, 0.05, 0.05, 0.2, 0.8, 1.6, 2.75, 3.7, 3.35, 2.3, 1.3, 0.85, 0.6, 0.55, 0.6, 0.65, 0.8,
     1.1, 1.3, 1.3, 1.25, 1.2, 1.15, 1.12, 1.1, 1.1, 1.08, 1.1, 1.05, 1.05, 1.1, 1.05, 1.05, 1.0, 1.05, 1.05],
    [0.2, 0.0, 0.05, 0.05, 0.1, 0.05, 0.25, 0.75, 1.65, 2.8, 3.85, 3.4, 2.5, 1.4, 0.9, 0.65, 0.6, 0.65, 0.7, 0.8,
     1.1, 1.35, 1.38, 1.35, 1.3, 1.2, 1.25, 1.2, 1.15, 1.15, 1.2, 1.1, 1.15, 1.1, 1.2, 1.1, 1.1, 1.15, 1.05],
    [0.2, 0.05, 0.05, 0.0, 0.0, 0.05, 0.2, 0.75, 1.5, 2.6, 3.6, 3.3, 2.35, 1.3, 0.8, 0.5, 0.45, 0.45, 0.55, 0.8,
     1.05, 1.2, 1.2, 1.15, 1.1, 1.05, 1.0, 1.0, 1.02, 1.0, 1.0, 0.98, 1.0, 0.98, 1.0, 0.95, 0.98, 0.97, 0.98],
    [0.25, 0.05, 0.1, 0.05, 0.05, 0.1, 0.25, 0.8, 1.6, 2.7, 3.8, 3.45, 2.4, 1.35, 0.85, 0.65, 0.6, 0.62, 0.65, 0.85,
     1.1, 1.3, 1.35, 1.3, 1.25, 1.2, 1.18, 1.15, 1.15, 1.1, 1.12, 1.1, 1.12, 1.08, 1.1, 1.08, 1.05, 1.1, 1.05],
    [0.15, 0.0, 0.05, 0.05, 0.05, 0.05, 0.2, 0.75, 1.55, 2.7, 3.65, 3.25, 2.3, 1.25, 0.75, 0.6, 0.55, 0.55, 0.6, 0.8,
     1.05, 1.22, 1.25, 1.2, 1.15, 1.1, 1.05, 1.05, 1.05, 1.02, 1.0, 1.02, 1.0, 1.0, 1.02, 0.98, 1.0, 0.98, 1.0],
]

jp_hi_20 = [0.2, 0.07, 0.07, 0.07, 0.07, 0.07, 0.25, 0.8, 1.65, 2.8, 3.7, 3.45, 2.45, 1.4, 0.88, 0.7, 0.66, 0.66, 0.7, 0.86,
            1.12, 1.32, 1.35, 1.3, 1.26, 1.22, 1.2, 1.17, 1.15, 1.14, 1.13, 1.12, 1.12, 1.11, 1.1, 1.1, 1.09, 1.09, 1.08]
jp_lo_20 = [0.1, 0.0, 0.0, 0.0, 0.0, 0.0, 0.15, 0.7, 1.55, 2.62, 3.52, 3.28, 2.28, 1.28, 0.78, 0.58, 0.55, 0.55, 0.6, 0.75,
            1.0, 1.2, 1.24, 1.2, 1.15, 1.12, 1.1, 1.08, 1.06, 1.05, 1.04, 1.03, 1.03, 1.02, 1.02, 1.01, 1.01, 1.0, 1.0]
jp_reps_20 = [
    [0.15, 0.05, 0.05, 0.0, 0.05, 0.05, 0.2, 0.8, 1.6, 2.75, 3.7, 3.3, 2.35, 1.35, 0.8, 0.62, 0.6, 0.6, 0.65, 0.8,
     1.1, 1.28, 1.3, 1.25, 1.2, 1.15, 1.1, 1.12, 1.1, 1.08, 1.05, 1.05, 1.05, 1.08, 1.05, 1.05, 1.05, 1.02, 1.05],
    [0.25, 0.0, 0.05, 0.05, 0.05, 0.1, 0.25, 0.8, 1.65, 2.85, 3.85, 3.5, 2.5, 1.4, 0.9, 0.7, 0.65, 0.65, 0.7, 0.9,
     1.15, 1.35, 1.4, 1.35, 1.3, 1.25, 1.2, 1.2, 1.15, 1.15, 1.12, 1.1, 1.15, 1.1, 1.1, 1.12, 1.1, 1.08, 1.1],
    [0.2, 0.05, 0.0, 0.05, 0.0, 0.05, 0.2, 0.75, 1.55, 2.7, 3.6, 3.35, 2.4, 1.3, 0.8, 0.6, 0.6, 0.6, 0.65, 0.8,
     1.05, 1.25, 1.28, 1.22, 1.18, 1.12, 1.1, 1.08, 1.05, 1.05, 1.05, 1.03, 1.02, 1.03, 1.02, 1.0, 1.0, 1.02, 1.0],
    [0.22, 0.05, 0.05, 0.05, 0.05, 0.05, 0.25, 0.8, 1.6, 2.8, 3.9, 3.45, 2.45, 1.35, 0.85, 0.68, 0.62, 0.65, 0.7, 0.85,
     1.1, 1.3, 1.35, 1.3, 1.25, 1.2, 1.15, 1.15, 1.12, 1.1, 1.1, 1.08, 1.1, 1.08, 1.08, 1.07, 1.06, 1.05, 1.05],
    [0.15, 0.0, 0.05, 0.0, 0.05, 0.0, 0.2, 0.75, 1.55, 2.65, 3.6, 3.3, 2.3, 1.3, 0.75, 0.55, 0.55, 0.55, 0.6, 0.75,
     1.0, 1.2, 1.25, 1.2, 1.15, 1.1, 1.08, 1.05, 1.03, 1.02, 1.02, 1.0, 1.0, 1.0, 1.0, 0.98, 1.0, 0.98, 1.0],
]

# ---------------- J^a_- ----------------
jm_true = [0.0, 0.0, 0.0, 0.0, 0.0, 0.0, 0.05, 0.3, 1.0, 1.85, 2.4, 2.15, 1.5, 0.9, 0.55, 0.43, 0.41, 0.42, 0.48, 0.6,
           0.75, 0.84, 0.86, 0.83, 0.8, 0.78, 0.77, 0.76, 0.75, 0.75, 0.74, 0.73, 0.73, 0.72, 0.72, 0.71, 0.71, 0.71, 0.7, 0.7]

jm_hi_5 = [1.1, 0.15, 0.15, 0.2, 0.15, 0.1, 0.15, 0.55, 1.4, 2.4, 3.2, 2.85, 2.0, 0.95, 0.75, 0.55, 0.75, 0.55, 0.85, 1.1,
           1.0, 1.35, 1.45, 1.3, 1.4, 1.2, 1.35, 1.25, 1.35, 1.2, 1.35, 1.15, 1.25, 1.25, 1.3, 1.2, 1.2, 1.15, 1.15]
jm_lo_5 = [0.35, 0.0, 0.0, 0.05, 0.0, 0.0, 0.05, 0.3, 1.1, 1.9, 2.3, 2.1, 1.5, 0.7, 0.35, 0.35, 0.4, 0.3, 0.45, 0.55,
           0.6, 0.5, 0.7, 0.55, 0.6, 0.45, 0.7, 0.55, 0.6, 0.75, 0.5, 0.65, 0.6, 0.5, 0.6, 0.5, 0.6, 0.55, 0.6]
jm_reps_5 = [
    [1.4, 0.1, 0.1, 0.2, 0.1, 0.05, 0.1, 0.2, 1.3, 2.1, 3.7, 2.7, 2.3, 1.0, 0.75, 0.7, 0.6, 0.55, 0.8, 0.85,
     1.2, 1.1, 1.6, 1.25, 1.4, 1.0, 1.38, 1.0, 1.2, 1.2, 1.25, 1.32, 1.05, 1.1, 1.25, 1.13, 0.95, 0.85, 0.82],
    [0.6, 0.05, 0.05, 0.0, 0.05, 0.05, 0.05, 0.28, 1.2, 1.43, 2.2, 1.48, 0.82, 0.7, 0.85, 0.35, 0.3, 0.75, 0.2, 0.6,
     0.52, 0.55, 0.5, 0.57, 0.45, 0.32, 0.6, 0.6, 0.55, 0.62, 0.7, 0.32, 0.55, 0.4, 0.38, 0.48, 0.55, 0.6, 0.5],
    [0.68, 0.0, 0.12, 0.15, 0.3, 0.02, 0.0, 0.5, 1.4, 2.48, 2.8, 3.05, 1.9, 1.67, 0.85, 1.3, 1.33, 1.2, 1.55, 1.3,
     1.5, 1.5, 1.5, 1.5, 1.5, 1.5, 1.5, 1.5, 1.5, 1.5, 1.5, 1.5, 1.5, 1.5, 1.5, 1.5, 1.5, 1.5, 1.5],
    [0.38, 0.1, 0.1, 0.1, 0.12, 0.0, 0.2, 0.05, 1.35, 1.6, 2.3, 1.65, 1.3, 0.7, 0.32, 0.5, 0.48, 0.2, 0.65, 0.48,
     0.55, 0.58, 0.58, 0.65, 0.22, 0.55, 0.45, 0.58, 0.35, 0.4, 0.5, 0.33, 0.57, 0.83, 0.27, 0.95, 0.32, 0.62, 0.55],
    [0.75, 0.0, 0.4, 0.05, 0.05, 0.05, 0.1, 0.35, 1.15, 2.45, 2.67, 2.68, 2.1, 0.85, 0.65, 0.45, 0.7, 0.28, 0.38, 0.95,
     0.88, 0.85, 1.08, 0.97, 1.3, 0.82, 0.85, 1.1, 0.9, 0.92, 0.88, 0.92, 0.95, 0.92, 0.92, 0.88, 0.9, 0.9, 0.9],
]

jm_hi_10 = [0.3, 0.12, 0.1, 0.1, 0.1, 0.08, 0.15, 0.55, 1.35, 2.3, 2.85, 2.75, 1.9, 0.95, 0.8, 0.55, 0.72, 0.5, 0.75, 0.8,
            0.95, 1.05, 1.1, 1.1, 1.02, 0.98, 0.98, 0.95, 0.97, 0.95, 0.95, 0.93, 0.95, 0.95, 0.93, 0.95, 0.93, 0.95, 0.95]
jm_lo_10 = [0.05, 0.0, 0.0, 0.0, 0.0, 0.0, 0.05, 0.3, 1.05, 1.9, 2.5, 2.3, 1.6, 0.7, 0.45, 0.35, 0.38, 0.35, 0.48, 0.62,
            0.75, 0.8, 0.85, 0.83, 0.8, 0.8, 0.78, 0.78, 0.78, 0.77, 0.77, 0.76, 0.76, 0.76, 0.75, 0.76, 0.75, 0.75, 0.75]
jm_reps_10 = [
    [0.25, 0.05, 0.1, 0.05, 0.05, 0.0, 0.1, 0.45, 1.3, 2.2, 2.75, 2.65, 1.85, 0.85, 0.6, 0.4, 0.45, 0.35, 0.5, 0.7,
     0.85, 1.05, 1.0, 0.9, 1.2, 0.85, 0.95, 0.9, 0.85, 0.95, 0.85, 0.9, 0.85, 0.9, 0.85, 0.85, 0.9, 0.85, 0.8],
    [0.2, 0.05, 0.05, 0.0, 0.05, 0.0, 0.05, 0.3, 1.4, 2.55, 2.25, 2.5, 1.45, 0.75, 0.5, 0.35, 0.4, 0.35, 0.45, 0.65,
     0.8, 0.95, 0.85, 0.9, 0.8, 0.7, 0.95, 0.75, 0.95, 0.7, 0.85, 0.75, 0.7, 0.75, 0.8, 0.85, 0.75, 0.8, 0.7],
    [0.15, 0.0, 0.05, 0.0, 0.05, 0.05, 0.05, 0.35, 1.2, 2.4, 2.65, 2.9, 1.6, 0.8, 0.55, 0.3, 0.45, 0.55, 0.45, 0.7,
     0.9, 1.0, 0.95, 0.95, 0.8, 0.7, 0.9, 0.75, 0.85, 0.8, 0.9, 0.9, 0.75, 0.85, 0.8, 0.9, 0.85, 0.9, 0.75],
    [0.3, 0.05, 0.1, 0.1, 0.05, 0.05, 0.15, 0.45, 1.3, 2.45, 3.25, 2.45, 1.7, 0.7, 0.7, 0.5, 0.45, 0.35, 0.65, 0.7,
     1.0, 1.0, 1.0, 0.95, 0.9, 1.0, 0.85, 0.95, 0.9, 0.85, 0.95, 0.9, 0.95, 1.0, 0.9, 0.95, 1.05, 0.95, 0.95],
    [0.3, 0.0, 0.05, 0.05, 0.05, 0.05, 0.1, 0.4, 1.3, 2.45, 3.1, 2.5, 1.55, 0.7, 0.55, 0.45, 0.7, 0.3, 0.7, 0.75,
     0.95, 1.05, 1.1, 0.95, 0.95, 1.05, 1.0, 0.95, 0.9, 0.95, 0.9, 0.95, 0.95, 0.9, 0.95, 0.9, 0.95, 0.9, 0.9],
]

jm_hi_15 = [0.25, 0.08, 0.08, 0.08, 0.08, 0.06, 0.12, 0.45, 1.25, 2.25, 2.8, 2.6, 1.75, 0.95, 0.65, 0.5, 0.48, 0.48, 0.55, 0.7,
            0.88, 0.95, 0.95, 0.92, 0.88, 0.85, 0.84, 0.82, 0.8, 0.8, 0.8, 0.78, 0.78, 0.78, 0.77, 0.77, 0.77, 0.76, 0.76]
jm_lo_15 = [0.08, 0.0, 0.0, 0.0, 0.0, 0.0, 0.03, 0.3, 1.05, 1.95, 2.4, 2.2, 1.5, 0.8, 0.5, 0.37, 0.35, 0.38, 0.42, 0.58,
            0.75, 0.8, 0.82, 0.78, 0.75, 0.73, 0.72, 0.71, 0.7, 0.7, 0.69, 0.69, 0.68, 0.68, 0.68, 0.67, 0.67, 0.67, 0.67]
jm_reps_15 = [
    [0.2, 0.0, 0.05, 0.0, 0.02, 0.02, 0.05, 0.35, 1.1, 2.1, 2.35, 2.2, 1.55, 0.8, 0.5, 0.35, 0.35, 0.4, 0.45, 0.6,
     0.72, 0.75, 0.78, 0.7, 0.72, 0.7, 0.68, 0.65, 0.6, 0.72, 0.7, 0.68, 0.7, 0.65, 0.7, 0.68, 0.7, 0.62, 0.6],
    [0.15, 0.0, 0.05, 0.0, 0.05, 0.0, 0.05, 0.35, 1.15, 2.3, 2.75, 2.5, 1.65, 0.9, 0.55, 0.5, 0.45, 0.45, 0.5, 0.65,
     0.85, 0.95, 0.9, 0.88, 0.85, 0.82, 0.78, 0.8, 0.78, 0.75, 0.78, 0.76, 0.75, 0.78, 0.75, 0.75, 0.73, 0.74, 0.72],
    [0.25, 0.0, 0.05, 0.0, 0.05, 0.0, 0.1, 0.4, 1.3, 2.45, 3.1, 2.9, 1.85, 1.0, 0.55, 0.4, 0.4, 0.42, 0.5, 0.7,
     0.9, 1.0, 0.95, 0.9, 0.85, 0.88, 0.8, 0.85, 0.8, 0.82, 0.78, 0.8, 0.78, 0.8, 0.8, 0.78, 0.8, 0.78, 0.78],
    [0.2, 0.0, 0.05, 0.0, 0.05, 0.0, 0.05, 0.4, 1.2, 2.3, 2.6, 2.4, 1.7, 0.9, 0.55, 0.4, 0.38, 0.42, 0.48, 0.65,
     0.85, 0.9, 0.88, 0.85, 0.8, 0.8, 0.78, 0.76, 0.75, 0.76, 0.74, 0.75, 0.72, 0.74, 0.73, 0.72, 0.73, 0.72, 0.72],
    [0.15, 0.0, 0.05, 0.0, 0.05, 0.0, 0.05, 0.35, 1.1, 2.2, 2.5, 2.3, 1.6, 0.85, 0.5, 0.35, 0.38, 0.38, 0.45, 0.62,
     0.8, 0.85, 0.85, 0.82, 0.78, 0.75, 0.75, 0.72, 0.7, 0.73, 0.7, 0.72, 0.7, 0.72, 0.7, 0.7, 0.72, 0.68, 0.7],
]

jm_hi_20 = [0.22, 0.06, 0.06, 0.06, 0.06, 0.05, 0.1, 0.4, 1.1, 1.95, 2.5, 2.25, 1.55, 0.92, 0.6, 0.46, 0.45, 0.46, 0.52, 0.65,
            0.82, 0.9, 0.92, 0.88, 0.85, 0.82, 0.81, 0.8, 0.79, 0.78, 0.78, 0.77, 0.77, 0.76, 0.76, 0.75, 0.75, 0.75, 0.74]
jm_lo_20 = [0.1, 0.0, 0.0, 0.0, 0.0, 0.0, 0.03, 0.28, 0.95, 1.78, 2.3, 2.05, 1.42, 0.8, 0.48, 0.35, 0.33, 0.35, 0.42, 0.55,
            0.72, 0.78, 0.8, 0.77, 0.74, 0.72, 0.71, 0.7, 0.69, 0.69, 0.68, 0.68, 0.67, 0.67, 0.67, 0.66, 0.66, 0.66, 0.66]
jm_reps_20 = [
    [0.22, 0.0, 0.05, 0.0, 0.02, 0.0, 0.1, 0.35, 1.05, 1.95, 2.6, 2.2, 1.5, 0.85, 0.5, 0.4, 0.35, 0.4, 0.45, 0.6,
     0.8, 0.85, 0.8, 0.82, 0.75, 0.78, 0.75, 0.72, 0.7, 0.75, 0.7, 0.72, 0.7, 0.7, 0.72, 0.7, 0.7, 0.68, 0.7],
    [0.15, 0.0, 0.05, 0.0, 0.05, 0.0, 0.05, 0.3, 1.0, 1.8, 2.45, 2.0, 1.3, 0.75, 0.3, 0.35, 0.2, 0.35, 0.4, 0.55,
     0.7, 0.72, 0.75, 0.7, 0.72, 0.65, 0.7, 0.6, 0.68, 0.65, 0.7, 0.62, 0.68, 0.6, 0.65, 0.65, 0.68, 0.6, 0.62],
    [0.18, 0.0, 0.05, 0.0, 0.0, 0.0, 0.05, 0.3, 1.0, 1.9, 2.45, 2.15, 1.5, 0.8, 0.45, 0.4, 0.38, 0.4, 0.45, 0.6,
     0.75, 0.8, 0.82, 0.8, 0.78, 0.75, 0.75, 0.72, 0.72, 0.72, 0.7, 0.7, 0.7, 0.7, 0.7, 0.68, 0.7, 0.7, 0.68],
    [0.2, 0.0, 0.05, 0.0, 0.05, 0.0, 0.05, 0.35, 1.05, 1.95, 2.55, 2.25, 1.55, 0.85, 0.5, 0.38, 0.4, 0.45, 0.5, 0.65,
     0.82, 0.88, 0.85, 0.82, 0.8, 0.78, 0.78, 0.75, 0.75, 0.78, 0.75, 0.74, 0.72, 0.75, 0.74, 0.72, 0.72, 0.72, 0.72],
    [0.15, 0.0, 0.05, 0.0, 0.05, 0.0, 0.05, 0.3, 1.0, 1.85, 2.5, 2.1, 1.5, 0.8, 0.45, 0.38, 0.35, 0.38, 0.45, 0.6,
     0.78, 0.82, 0.8, 0.78, 0.75, 0.72, 0.72, 0.7, 0.7, 0.7, 0.68, 0.7, 0.68, 0.68, 0.7, 0.66, 0.68, 0.66, 0.66],
]

# ---------------- panel assembly ----------------
rows = [
    dict(x=x_k, x_true=x_k, true=kva_true, lo=[kva_lo_5, kva_lo_10, kva_lo_15, kva_lo_20],
         hi=[kva_hi_5, kva_hi_10, kva_hi_15, kva_hi_20], reps=[kva_reps_5, kva_reps_10, kva_reps_15, kva_reps_20],
         ylabel=r"$K^{va}$ (1/s)", xlabel="x (cm)", ylim=(-0.195, 1.155), xlim=(-0.84, 26.44),
         yticks=[0.0, 0.25, 0.5, 0.75, 1.0], yfmt="{:.2f}", xticks=[0, 10, 20]),
    dict(x=x_u, x_true=x_u, true=ua_true, lo=[ua_lo_5, ua_lo_10, ua_lo_15, ua_lo_20],
         hi=[ua_hi_5, ua_hi_10, ua_hi_15, ua_hi_20], reps=[ua_reps_5, ua_reps_10, ua_reps_15, ua_reps_20],
         ylabel=r"$u^{a}$ (cm/s)", xlabel="x (cm)", ylim=(-3.0, 3.75), xlim=(-1.25, 26.8),
         yticks=[-2, 0, 2], yfmt="{:g}", xticks=[0, 10, 20]),
    dict(x=x_u, x_true=x_u, true=uv_true, lo=[uv_lo_5, uv_lo_10, uv_lo_15, uv_lo_20],
         hi=[uv_hi_5, uv_hi_10, uv_hi_15, uv_hi_20], reps=[uv_reps_5, uv_reps_10, uv_reps_15, uv_reps_20],
         ylabel=r"$u^{v}$ (cm/s)", xlabel="x (cm)", ylim=(-3.0, 3.0), xlim=(-1.25, 26.8),
         yticks=[-3, -2, -1, 0, 1, 2, 3], yfmt="{:g}", xticks=[0, 10, 20]),
    dict(x=t_est, x_true=t_true, true=jp_true, lo=[jp_lo_5, jp_lo_10, jp_lo_15, jp_lo_20],
         hi=[jp_hi_5, jp_hi_10, jp_hi_15, jp_hi_20], reps=[jp_reps_5, jp_reps_10, jp_reps_15, jp_reps_20],
         ylabel=r"$J^{a}_{+}$ (mM/s)", xlabel="t (s)", ylim=(-0.21, 4.27), xlim=(-3.9, 82.9),
         yticks=[0, 1, 2, 3, 4], yfmt="{:g}", xticks=[0, 25, 50, 75]),
    dict(x=t_est, x_true=t_true, true=jm_true, lo=[jm_lo_5, jm_lo_10, jm_lo_15, jm_lo_20],
         hi=[jm_hi_5, jm_hi_10, jm_hi_15, jm_hi_20], reps=[jm_reps_5, jm_reps_10, jm_reps_15, jm_reps_20],
         ylabel=r"$J^{a}_{-}$ (mM/s)", xlabel="t (s)", ylim=(-0.21, 3.92), xlim=(-3.9, 82.9),
         yticks=[0, 1, 2, 3], yfmt="{:g}", xticks=[0, 25, 50, 75]),
]

# ---------------- figure ----------------
W, H = 1097, 1368
fig = plt.figure(figsize=(W / 100, H / 100), dpi=100)
plt.rcParams["font.family"] = ["DejaVu Sans"]

col_left = [73, 335, 598, 861]
row_top = [28, 300, 570, 842, 1113]
ax_w, ax_h = 242, 215
spine_grey = "#8f8f8f"

for r, spec in enumerate(rows):
    for c in range(4):
        left = col_left[c] / W
        bottom = 1 - (row_top[r] + ax_h) / H
        ax = fig.add_axes([left, bottom, ax_w / W, ax_h / H])

        ax.fill_between(spec["x"], spec["lo"][c], spec["hi"][c], color="#1f77b4", linewidth=0, zorder=1)
        ax.plot(spec["x_true"], spec["true"], color="black", lw=1.4, zorder=3)
        for k, vals in enumerate(spec["reps"][c]):
            ax.plot(spec["x"], vals, linestyle="none", marker="o", ms=4.0, mew=0,
                    color=repeat_colors[k], label=repeat_labels[k], zorder=4)

        ax.set_xlim(*spec["xlim"])
        ax.set_ylim(*spec["ylim"])
        ax.set_xticks(spec["xticks"])
        ax.set_yticks(spec["yticks"])
        if c == 0:
            ax.set_yticklabels([spec["yfmt"].format(v).replace("-", "\u2212") for v in spec["yticks"]])
            ax.set_ylabel(spec["ylabel"], fontsize=13, labelpad=2)
        else:
            ax.set_yticklabels([])
        ax.set_xlabel(spec["xlabel"], fontsize=13, labelpad=0)
        ax.tick_params(labelsize=13, color=spine_grey, length=3, width=0.8, pad=1.5)
        for s in ax.spines.values():
            s.set_color(spine_grey)
            s.set_linewidth(1.0)
        if r == 0:
            ax.set_title(f"SNR: {snrs[c]}", fontsize=16, pad=2)
        if r == 4 and c == 3:
            ax.legend(title="Repeat", loc="upper right", fontsize=9.5, title_fontsize=12.5,
                      markerscale=0.9, handletextpad=1.2, borderpad=0.4, labelspacing=0.45,
                      frameon=True, framealpha=0.8)

fig.savefig("out.png", dpi=100)
